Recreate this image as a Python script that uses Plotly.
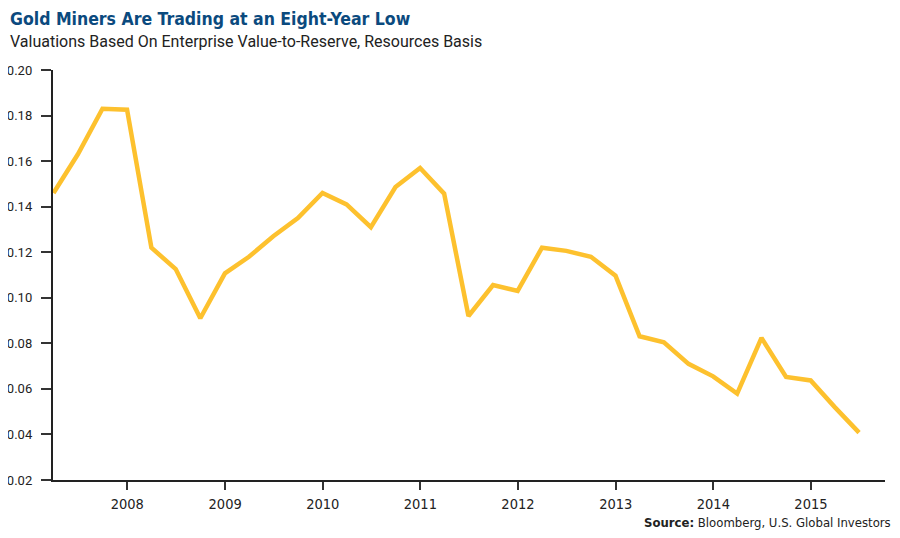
import plotly.graph_objects as go

# Quarter-end dates, Q1 2007 .. Q2 2015
quarters = []
for yr in range(2007, 2016):
    for md in ["03-31", "06-30", "09-30", "12-31"]:
        quarters.append(f"{yr}-{md}")
quarters = quarters[:34]

valuation = [0.146, 0.163, 0.183, 0.1826, 0.122, 0.1126, 0.091, 0.1107,
             0.118, 0.127, 0.135, 0.146, 0.141, 0.131, 0.1486, 0.157,
             0.1457, 0.092, 0.1056, 0.103, 0.122, 0.1206, 0.118, 0.1097,
             0.0831, 0.0805, 0.071, 0.0655, 0.0579, 0.0824, 0.0652, 0.0637,
             0.052, 0.0408]

year_ticks = [f"{y}-01-01" for y in range(2008, 2016)]
year_labels = [str(y) for y in range(2008, 2016)]
y_ticks = [0.02, 0.04, 0.06, 0.08, 0.10, 0.12, 0.14, 0.16, 0.18, 0.20]

COND = "DejaVu Sans Condensed, Roboto, sans-serif"

# page has an 8px body margin; figure is placed at (8, 8)
OFF = 8
W, H = 900 - 2 * OFF, 538 - 2 * OFF
# plot area in page pixels: x 53..885, y 70..480
L = 53 - OFF
R = W - (885 - OFF)
T = 70 - OFF
B = H - (480 - OFF)
pw = W - L - R
ph = H - T - B

def px_x(px):
    return (px - OFF - L) / pw

def px_y(py):
    return (H - B - (py - OFF)) / ph

fig = go.Figure()
fig.add_trace(go.Scatter(
    x=quarters, y=valuation, mode="lines",
    line=dict(color="#FDC12E", width=4.5),
    hoverinfo="skip", showlegend=False,
))

fig.update_layout(
    width=W, height=H,
    margin=dict(l=L, r=R, t=T, b=B, pad=0, autoexpand=False),
    paper_bgcolor="white", plot_bgcolor="white",
    xaxis=dict(
        type="date",
        range=["2007-03-29", "2015-10-05"],
        tickvals=year_ticks, ticktext=year_labels,
        showgrid=False, zeroline=False,
        showline=True, linecolor="#222222", linewidth=1.5,
        ticks="outside", ticklen=8, tickwidth=1.5, tickcolor="#333333",
        tickfont=dict(family=COND, size=14.5, color="#222222"),
        ticklabelstandoff=2,
    ),
    yaxis=dict(
        range=[0.02, 0.20],
        tickvals=y_ticks,
        ticktext=[f"{v:.2f}\u00a0\u00a0" for v in y_ticks],
        showgrid=False, zeroline=False,
        showline=True, linecolor="#222222", linewidth=1.5,
        ticks="outside", ticklen=10, tickwidth=1.5, tickcolor="#333333",
        tickfont=dict(family="Roboto", size=13, color="#222222"),
    ),
    annotations=[
        dict(text="Gold Miners Are Trading at an Eight-Year Low",
             xref="paper", yref="paper", x=px_x(8), y=px_y(7),
             xanchor="left", yanchor="top", showarrow=False,
             font=dict(family=COND, size=17.5, color="#0B4A7E", weight="bold")),
        dict(text="Valuations Based On Enterprise Value-to-Reserve, Resources Basis",
             xref="paper", yref="paper", x=px_x(8), y=px_y(42),
             xanchor="left", yanchor="middle", showarrow=False,
             font=dict(family="Roboto", size=16, color="#222222")),
        dict(text="<b>Source:</b> Bloomberg, U.S. Global Investors",
             xref="paper", yref="paper", x=px_x(893), y=px_y(522),
             xanchor="right", yanchor="middle", showarrow=False,
             font=dict(family=COND, size=13, color="#222222")),
    ],
)

fig.write_html("out.html")
